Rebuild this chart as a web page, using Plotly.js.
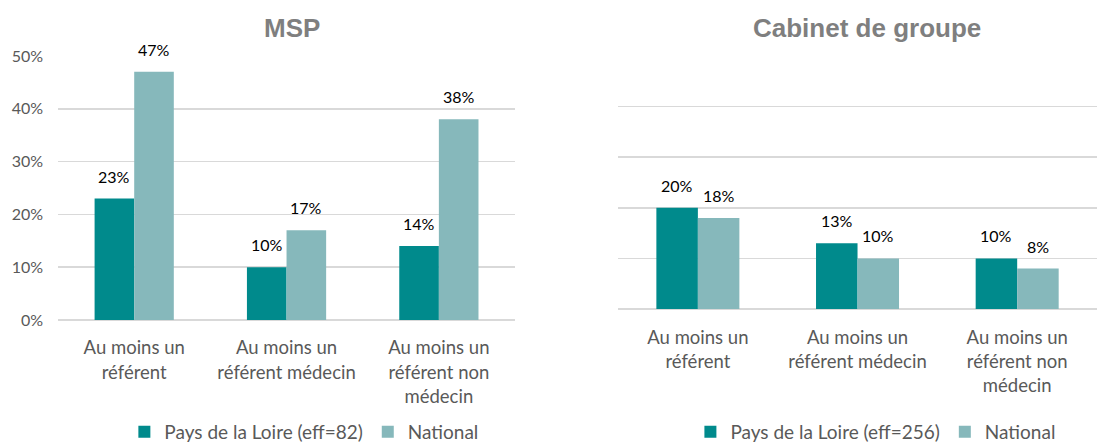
<!DOCTYPE html>
<html><head><meta charset="utf-8">
<script src="https://cdn.plot.ly/plotly-3.0.1.min.js"></script>
<style>html,body{margin:0;padding:0;background:#fff}</style>
</head><body>
<div id="chart" style="width:1097px;height:445px"></div>
<script>
const categories = ["Au moins un<br>référent", "Au moins un<br>référent médecin", "Au moins un<br>référent non<br>médecin"];
const msp_pdl = [0.23, 0.10, 0.14];
const msp_nat = [0.47, 0.17, 0.38];
const cab_pdl = [0.20, 0.13, 0.10];
const cab_nat = [0.18, 0.10, 0.08];
const name_msp_pdl = "Pays de la Loire (eff=82)";
const name_cab_pdl = "Pays de la Loire (eff=256)";
const name_nat = "National";

const C1 = "#008a8c", C2 = "#86b8bb";
const FONT = "Lato, 'Open Sans', sans-serif";
const lblFont = {family: FONT, size: 16, color: "#000"};
const pct = x => Math.round(x*100) + "%";

const W = 1097, H = 445, BARGAP = 0.48;
const dom1 = [0.0529, 0.4695], dom2 = [0.5634, 1];

function bar(x, y, name, color, xa, ya, legend) {
  return {type: "bar", x: x, y: y, name: name, marker: {color: color},
    xaxis: xa, yaxis: ya, legend: legend, hoverinfo: "skip"};
}

const data = [
  bar(categories, msp_pdl, name_msp_pdl, C1, "x", "y", "legend"),
  bar(categories, msp_nat, name_nat, C2, "x", "y", "legend"),
  bar(categories, cab_pdl, name_cab_pdl, C1, "x2", "y2", "legend2"),
  bar(categories, cab_nat, name_nat, C2, "x2", "y2", "legend2")
];

// data labels above each bar (offset derived from axis width and bargap)
function labels(vals1, vals2, dom, xr, yr) {
  const catW = (dom[1] - dom[0]) * W / categories.length;
  const half = (1 - BARGAP) * catW / 4;
  const out = [];
  [[vals1, -half], [vals2, half]].forEach(([vals, sh]) => {
    vals.forEach((v, i) => out.push({x: categories[i], y: v, xref: xr, yref: yr, text: pct(v),
      showarrow: false, xanchor: "center", yanchor: "bottom", xshift: sh, yshift: 11, font: lblFont}));
  });
  return out;
}

const axisX = {type: "category", showgrid: false, zeroline: false, showline: false, ticks: "",
  tickfont: {family: FONT, size: 18.5, color: "#595959"}, ticklabelstandoff: 15, fixedrange: true, automargin: false};

const legFont = {family: FONT, size: 19, color: "#595959"};
const titleFont = {family: "'Liberation Sans', sans-serif", size: 26, color: "#7f7f7f"};

const layout = {
  width: W, height: H, margin: {l: 0, r: 0, t: 0, b: 0, autoexpand: false},
  paper_bgcolor: "#fff", plot_bgcolor: "#fff",
  barmode: "group", bargap: BARGAP, bargroupgap: 0,
  showlegend: true,
  xaxis: Object.assign({}, axisX, {domain: dom1, anchor: "y"}),
  xaxis2: Object.assign({}, axisX, {domain: dom2, anchor: "y2"}),
  yaxis: {domain: [0.281, 0.8742], range: [0, 0.5], dtick: 0.1, tickformat: ".0%", automargin: false,
    showgrid: true, gridcolor: "#d9d9d9", gridwidth: 1.5, zeroline: true, zerolinecolor: "#d9d9d9", zerolinewidth: 2,
    showline: false, ticks: "", tickfont: {family: FONT, size: 16, color: "#595959"}, ticklabelstandoff: 14, anchor: "x"},
  yaxis2: {domain: [0.3056, 0.8742], range: [0, 0.5], dtick: 0.1, automargin: false,
    showgrid: true, gridcolor: "#d9d9d9", gridwidth: 1.5, zeroline: true, zerolinecolor: "#d9d9d9", zerolinewidth: 2,
    showline: false, ticks: "", showticklabels: false, anchor: "x2"},
  legend: {orientation: "h", x: 0.277, y: 1 - 432/H, xanchor: "center", yanchor: "middle",
    font: legFont, itemwidth: 30, itemclick: false, tracegroupgap: 0},
  legend2: {orientation: "h", x: 0.798, y: 1 - 432/H, xanchor: "center", yanchor: "middle",
    font: legFont, itemwidth: 30, itemclick: false},
  annotations: [
    {text: "<b>MSP</b>", x: 0.266, y: 1 - 28/H, xref: "paper", yref: "paper", showarrow: false,
      xanchor: "center", yanchor: "middle", font: titleFont},
    {text: "<b>Cabinet de groupe</b>", x: 0.79, y: 1 - 28/H, xref: "paper", yref: "paper", showarrow: false,
      xanchor: "center", yanchor: "middle", font: titleFont}
  ].concat(labels(msp_pdl, msp_nat, dom1, "x", "y"), labels(cab_pdl, cab_nat, dom2, "x2", "y2"))
};

Plotly.newPlot("chart", data, layout, {displayModeBar: false, staticPlot: true});
</script>
</body></html>
